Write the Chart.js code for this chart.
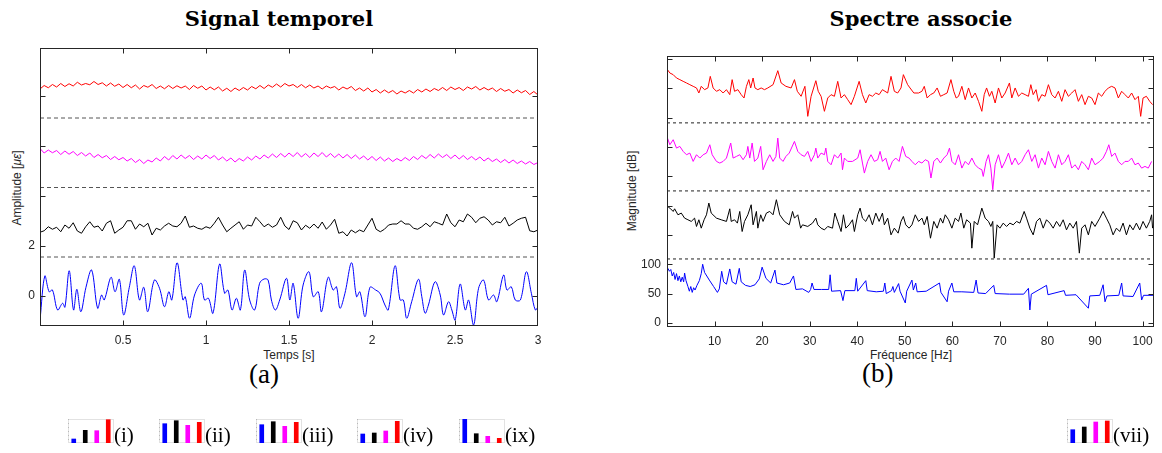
<!DOCTYPE html>
<html>
<head>
<meta charset="utf-8">
<script src="https://cdn.jsdelivr.net/npm/chart.js@4.4.1/dist/chart.umd.min.js"></script>
<style>
  body { margin: 0; background: #fff; width: 1162px; height: 453px; position: relative; overflow: hidden; font-family: 'Liberation Sans', Arial, sans-serif; }
  canvas { position: absolute; }
  .t { position: absolute; white-space: nowrap; color: #000; }
  .title { font: bold 21px 'DejaVu Serif', serif; top: 6px; transform: translateX(-50%); }
  .ax { font-size: 12px; color: #262626; transform: translateX(-50%); }
  .yax { font-size: 12px; color: #262626; transform: translate(-50%, -50%) rotate(-90deg); }
  .tag { font: 27px 'Liberation Serif', serif; }
  .leg { font: 21px 'Liberation Serif', serif; }
</style>
</head>
<body>
<div class="t title" style="left:279px">Signal temporel</div>
<div class="t title" style="left:921px">Spectre associe</div>
<div class="t ax" style="left:289px;top:348px">Temps [s]</div>
<div class="t ax" style="left:911px;top:348px">Fréquence [Hz]</div>
<div class="t yax" style="left:17px;top:188px">Amplitude [<i>με</i>]</div>
<div class="t yax" style="left:632px;top:191px">Magnitude [dB]</div>
<div class="t tag" style="left:249px;top:359px">(a)</div>
<div class="t tag" style="left:862px;top:358px">(b)</div>

<canvas id="temps" width="560" height="360" style="left:0;top:0"></canvas>
<canvas id="spectre" width="562" height="360" style="left:600px;top:0"></canvas>
<div id="legendes"></div>

<script>
// ---- signal temporel ----
const tNoisy = [
  0, 0.025, 0.05, 0.075, 0.1, 0.125, 0.15, 0.175, 0.2, 0.225,
  0.25, 0.275, 0.3, 0.325, 0.35, 0.375, 0.4, 0.425, 0.45, 0.475,
  0.5, 0.525, 0.55, 0.575, 0.6, 0.625, 0.65, 0.675, 0.7, 0.725,
  0.75, 0.775, 0.8, 0.825, 0.85, 0.875, 0.9, 0.925, 0.95, 0.975,
  1, 1.025, 1.05, 1.075, 1.1, 1.125, 1.15, 1.175, 1.2, 1.225,
  1.25, 1.275, 1.3, 1.325, 1.35, 1.375, 1.4, 1.425, 1.45, 1.475,
  1.5, 1.525, 1.55, 1.575, 1.6, 1.625, 1.65, 1.675, 1.7, 1.725,
  1.75, 1.775, 1.8, 1.825, 1.85, 1.875, 1.9, 1.925, 1.95, 1.975,
  2, 2.025, 2.05, 2.075, 2.1, 2.125, 2.15, 2.175, 2.2, 2.225,
  2.25, 2.275, 2.3, 2.325, 2.35, 2.375, 2.4, 2.425, 2.45, 2.475,
  2.5, 2.525, 2.55, 2.575, 2.6, 2.625, 2.65, 2.675, 2.7, 2.725,
  2.75, 2.775, 2.8, 2.825, 2.85, 2.875, 2.9, 2.925, 2.95, 2.975,
  3
];
const redTime = [
  8.28, 8.42, 8.33, 8.46, 8.36, 8.50, 8.38, 8.49, 8.40, 8.55,
  8.44, 8.50, 8.45, 8.58, 8.46, 8.53, 8.40, 8.52, 8.39, 8.48,
  8.34, 8.46, 8.33, 8.44, 8.28, 8.42, 8.35, 8.46, 8.30, 8.40,
  8.29, 8.42, 8.30, 8.41, 8.32, 8.40, 8.26, 8.42, 8.31, 8.40,
  8.24, 8.36, 8.25, 8.36, 8.20, 8.31, 8.18, 8.32, 8.22, 8.34,
  8.24, 8.38, 8.29, 8.42, 8.30, 8.44, 8.35, 8.48, 8.36, 8.50,
  8.40, 8.46, 8.34, 8.46, 8.33, 8.44, 8.32, 8.40, 8.28, 8.40,
  8.32, 8.38, 8.24, 8.36, 8.28, 8.38, 8.22, 8.32, 8.20, 8.32,
  8.16, 8.26, 8.12, 8.24, 8.13, 8.22, 8.08, 8.20, 8.12, 8.22,
  8.12, 8.26, 8.16, 8.28, 8.18, 8.30, 8.22, 8.34, 8.22, 8.36,
  8.26, 8.34, 8.22, 8.36, 8.28, 8.38, 8.24, 8.34, 8.24, 8.32,
  8.18, 8.30, 8.19, 8.26, 8.12, 8.24, 8.13, 8.22, 8.06, 8.18,
  8.04
];
const magentaTime = [
  5.90, 5.72, 5.84, 5.73, 5.82, 5.66, 5.80, 5.67, 5.78, 5.62,
  5.74, 5.60, 5.72, 5.54, 5.66, 5.53, 5.62, 5.46, 5.58, 5.45,
  5.54, 5.40, 5.50, 5.34, 5.46, 5.30, 5.44, 5.36, 5.52, 5.40,
  5.58, 5.44, 5.62, 5.48, 5.64, 5.50, 5.62, 5.46, 5.60, 5.48,
  5.64, 5.50, 5.62, 5.44, 5.56, 5.40, 5.52, 5.36, 5.50, 5.40,
  5.56, 5.44, 5.60, 5.48, 5.64, 5.52, 5.68, 5.54, 5.70, 5.56,
  5.72, 5.58, 5.74, 5.56, 5.70, 5.54, 5.72, 5.58, 5.74, 5.56,
  5.70, 5.54, 5.68, 5.52, 5.66, 5.50, 5.64, 5.48, 5.60, 5.44,
  5.58, 5.42, 5.56, 5.40, 5.52, 5.38, 5.50, 5.40, 5.54, 5.42,
  5.58, 5.46, 5.62, 5.50, 5.66, 5.52, 5.68, 5.54, 5.66, 5.50,
  5.64, 5.48, 5.62, 5.46, 5.58, 5.44, 5.56, 5.40, 5.52, 5.38,
  5.48, 5.34, 5.46, 5.32, 5.44, 5.30, 5.40, 5.28, 5.38, 5.26,
  5.34
];
const blackTime = [
  2.55, 2.61, 2.77, 2.67, 2.75, 2.57, 2.84, 2.71, 2.93, 2.60,
  2.51, 2.77, 2.97, 2.75, 2.80, 2.60, 2.91, 3.01, 2.51, 2.64,
  2.75, 3.01, 3.01, 2.67, 2.88, 2.77, 2.91, 2.44, 2.71, 2.64,
  2.80, 2.91, 2.80, 2.77, 2.91, 3.20, 2.75, 2.80, 2.71, 2.67,
  2.77, 2.71, 2.91, 3.15, 2.84, 2.57, 2.71, 2.84, 2.97, 2.67,
  2.84, 2.80, 3.15, 2.97, 2.77, 2.88, 2.75, 2.84, 3.15, 2.80,
  2.66, 3.01, 2.93, 2.64, 2.83, 2.71, 2.88, 2.71, 2.96, 2.67,
  2.84, 3.07, 2.51, 2.57, 2.40, 2.64, 2.53, 2.64, 2.57, 2.84,
  3.11, 2.67, 2.57, 2.67, 2.84, 2.88, 2.88, 3.01, 2.88, 2.88,
  2.71, 2.67, 2.77, 2.91, 2.77, 2.97, 2.91, 2.84, 3.28, 2.93,
  2.77, 3.04, 2.97, 3.28, 3.15, 2.93, 3.11, 3.17, 3.04, 2.84,
  2.97, 2.93, 3.15, 2.80, 2.91, 3.04, 3.11, 3.15, 2.61, 2.57,
  2.64
];
// blue: [t, amplitude]
const blueTime = [
  [0, -0.96], [0.029, 0.80], [0.055, 0.17], [0.075, 0.24], [0.106, -0.56], [0.136, -0.29], [0.150, -0.45],
  [0.176, 1.01], [0.202, -0.56], [0.222, 0.27], [0.246, -0.63], [0.277, 0.35], [0.311, 1.04], [0.347, -0.49],
  [0.371, 0.04], [0.387, -0.16], [0.428, 0.75], [0.452, 0.17], [0.478, 0.67], [0.504, -0.76], [0.538, 0.35],
  [0.568, 1.21], [0.599, -0.16], [0.625, 0.35], [0.649, -0.63], [0.689, 0.64], [0.720, 0.31], [0.750, -0.43],
  [0.776, 0.17], [0.794, -0.16], [0.826, 1.33], [0.861, -0.16], [0.875, -0.03], [0.901, -0.89], [0.931, 0.04],
  [0.971, 0.51], [0.991, -0.16], [1.015, -0.09], [1.042, -0.69], [1.082, 1.28], [1.112, 0.11], [1.132, 0.24],
  [1.157, -0.56], [1.183, -0.09], [1.207, -0.56], [1.233, 1.04], [1.263, -0.16], [1.293, -0.56], [1.323, 0.51],
  [1.350, 0.68], [1.374, 0.64], [1.394, -0.16], [1.418, -0.56], [1.444, -0.16], [1.485, 0.71], [1.505, -0.16],
  [1.525, 0.51], [1.555, -0.89], [1.585, 0.44], [1.620, 0.97], [1.646, -0.03], [1.676, 0.17], [1.696, -0.63],
  [1.736, 0.75], [1.766, 0.24], [1.786, 0.37], [1.807, -0.49], [1.837, 0.11], [1.877, 1.33], [1.907, -0.03],
  [1.927, 0.17], [1.958, -0.83], [1.988, 0.35], [2.022, 0.24], [2.048, 0.11], [2.078, -0.36], [2.098, -0.56],
  [2.139, 1.21], [2.169, -0.16], [2.189, -0.16], [2.209, -0.89], [2.239, -0.23], [2.280, 0.67], [2.300, -0.03],
  [2.320, -0.69], [2.340, -0.36], [2.380, 0.57], [2.411, 0.04], [2.431, -0.76], [2.461, -0.23], [2.481, -0.56],
  [2.501, -0.96], [2.531, 0.48], [2.562, -0.56], [2.582, -0.16], [2.612, -1.16], [2.642, 0.31], [2.672, 0.64],
  [2.702, -0.16], [2.732, 0.04], [2.752, -0.23], [2.793, 0.84], [2.813, 0.24], [2.839, 0.37], [2.863, -0.16],
  [2.894, -0.16], [2.930, 0.97], [2.960, 0.11], [2.984, -0.56], [3.0, -0.43]
];
const timeSep = [1.56, 4.34, 7.12];

// ---- spectre : [f (Hz), magnitude (dB)] ----
const specRed = [
  [0.1,431.7],[0.6,426],[1.3,423.2],[2.0,417.5],[2.7,414.7],[3.4,411.8],[4.1,409],[4.8,406.1],[5.5,403.3],[6.2,400.5],
  [6.7,391.9],[7.2,403.3],[7.9,397.6],[8.6,400.5],[9.1,420.3],[9.7,400.5],[10.4,394.8],[11.1,397.6],[11.8,391.9],[12.5,397.6],
  [13.2,389.1],[13.7,414.7],[14.2,394.8],[14.9,397.6],[15.6,389.1],[16.2,383.4],[16.7,403.3],[17.2,414.7],[17.6,400.5],[18.1,417.5],
  [18.5,400.5],[19.1,397.6],[19.8,400.5],[20.5,397.6],[21.2,400.5],[22.3,406.1],[23.3,430],[24.0,409],[25.0,403.3],[26.1,400.5],
  [26.8,414.7],[27.4,394.8],[28.2,386.3],[29.0,403.3],[29.6,352.1],[30.3,386.3],[31.3,412.9],[31.8,394.8],[32.4,386.3],[33.1,360.7],
  [33.8,383.4],[34.5,389.1],[35.2,386.3],[35.9,411.8],[36.6,383.4],[37.3,389.1],[38.0,380.6],[38.7,372.1],[39.4,386.3],[40.4,411.8],
  [41.1,389.1],[41.8,374.9],[42.5,389.1],[43.2,386.3],[43.9,391.9],[44.6,389.1],[45.3,397.6],[46.4,391.9],[47.1,420.3],[47.8,394.8],
  [48.5,391.9],[49.2,400.5],[49.7,423.2],[50.6,406.1],[51.1,400.5],
  [51.9,391.9],[52.9,391.9],[53.6,394.8],[54.1,403.3],[54.7,383.4],[55.4,389.1],[56.1,391.9],[56.8,400.5],[57.5,386.3],[58.2,389.1],
  [58.9,391.9],[59.7,414.7],[60.3,394.8],[60.8,383.4],[61.3,386.3],[62.0,403.3],[62.7,380.6],[63.4,400.5],[64.1,383.4],[64.8,391.9],
  [65.5,377.7],[66.2,360.7],[66.7,389.1],[67.2,400.5],[67.8,386.3],[68.3,394.8],[69.0,374.9],[69.7,400.5],[70.4,383.4],[71.1,391.9],
  [72.0,409],[72.5,383.4],[73.2,400.5],[73.9,386.3],[74.6,391.9],[75.3,389.1],[76.0,386.3],[76.5,406.1],[77.0,389.1],[77.6,397.6],
  [78.1,377.7],[78.8,389.1],[79.5,386.3],[80.2,406.1],[80.9,389.1],[81.6,383.4],[82.3,394.8],[83.0,377.7],[83.7,397.6],[84.4,386.3],
  [85.1,391.9],[85.8,397.6],[86.5,377.7],[87.2,389.1],[87.9,372.1],[88.6,386.3],[89.3,383.4],[90.0,372.1],[90.7,391.9],[91.4,386.3],
  [92.1,394.8],[92.8,400.5],[93.5,403.3],[94.2,400.5],[94.9,383.4],[95.6,394.8],[96.3,389.1],[97.0,383.4],[97.7,391.9],[98.4,380.6],
  [99.1,386.3],[99.6,352.1],[100.1,383.4],[100.8,386.3],[101.5,377.7],[102.1,372.1]
];
const specMagenta = [
  [0.1,315.1],[0.6,303.7],[1.3,312.3],[2.0,298],[2.7,300.9],[3.4,292.4],[4.1,286.7],[4.8,289.5],[5.5,275.3],[6.2,286.7],
  [6.9,281],[7.6,286.7],[8.3,289.5],[9.0,303.7],[9.5,286.7],[10.4,275.3],[11.1,272.5],[11.8,275.3],[12.5,281],[13.4,306.6],
  [13.9,281],[14.6,283.8],[15.3,286.7],[16.0,278.2],[16.7,286.7],[17.0,300.9],[17.4,281],[17.9,306.6],[18.4,275.3],[19.1,281],
  [19.7,300.9],[20.2,261.1],[20.9,275.3],[21.6,286.7],[22.3,275.3],[22.9,283.8],[23.3,315.1],[23.7,281],[24.4,275.3],[25.0,283.8],
  [25.7,289.5],[26.8,309.4],[27.5,292.4],[28.2,286.7],[28.9,283.8],[29.6,292.4],[30.3,275.3],[31.0,286.7],[31.3,298],[31.7,281],
  [32.4,289.5],[33.1,286.7],[33.4,298],[33.8,275.3],[34.5,269.6],[35.2,286.7],[35.9,281],[36.6,289.5],[36.9,261.1],[37.3,281],
  [38.0,275.3],[39.0,275.3],[40.1,281],[40.6,295.2],[41.1,272.5],[41.5,255.4],[42.2,275.3],[42.9,286.7],[43.6,275.3],[44.3,278.2],
  [44.8,292.4],[45.3,275.3],[46.0,281],[46.7,261.1],[47.4,275.3],[48.1,281],[48.8,275.3],[49.5,300.9],[50.2,283.8],[50.9,281],
  [51.5,275.3],[52.2,269.6],[52.9,275.3],[53.6,272.5],[54.3,278.2],[55.0,275.3],[55.5,247],[56.1,275.3],[56.8,281],[57.5,272.5],
  [58.2,281],[58.9,286.7],[59.4,298],[59.9,275.3],[60.6,269.6],[61.3,286.7],[62.0,263.9],[62.7,275.3],[63.4,269.6],[64.1,281],
  [64.8,269.6],[65.5,263.9],[66.2,261.1],[66.5,249.7],[67.1,275.3],[67.6,286.7],[68.1,263.9],[68.5,227],[69.0,269.6],[69.7,286.7],
  [70.4,263.9],[71.1,275.3],[71.8,289.5],[72.5,269.6],[73.2,281],[73.9,269.6],[74.6,275.3],[75.3,286.7],[76.0,295.2],[76.7,275.3],
  [77.4,286.7],[78.1,263.9],[78.8,281],[79.5,269.6],[80.2,292.4],[80.9,275.3],[81.6,263.9],[82.3,286.7],[83.0,269.6],[83.7,275.3],
  [84.4,286.7],[85.1,263.9],[85.8,269.6],[86.5,261.1],[87.2,275.3],[87.9,269.6],[88.6,261.1],[89.3,281],[90.0,269.6],[91.0,275.3],
  [91.7,281],[92.4,292.4],[92.9,303.7],[93.5,283.8],[94.2,289.5],[94.9,275.3],[95.6,269.6],[96.3,275.3],[97.0,275.3],[97.7,281],
  [98.4,269.6],[99.1,272.5],[99.8,263.9],[100.5,266.8],[101.2,263.9],[101.9,275.3]
];
const specBlack = [
  [0.1,198.7],[0.6,195.7],[1.3,190],[1.6,194.5],[2.3,184.3],[3.0,187.2],[3.7,178.6],[4.4,175.8],[5.1,173],[5.8,178.6],
  [6.2,164.4],[6.7,175.8],[7.2,161.5],[7.8,175.8],[8.3,184.3],[8.8,204.3],[9.3,187.2],[10.4,178.6],[11.4,175.8],[12.5,173],
  [13.2,194.5],[13.5,173],[14.2,175.8],[14.8,170.1],[15.3,190],[15.8,155.8],[16.3,173],[17.0,184.3],[17.7,201.4],[18.1,167.2],
  [18.8,190],[19.1,161.5],[19.7,184.3],[20.2,173],[20.9,187.2],[21.6,190],[22.3,184.3],[23.0,210],[23.7,184.3],[24.7,173],
  [25.7,167.2],[26.4,190],[26.8,178.6],[27.5,184.3],[28.1,161.5],[28.5,167.2],[29.6,164.4],[30.6,170.1],[31.3,178.6],[31.7,167.2],
  [32.4,161.5],[33.1,158.6],[33.8,164.4],[34.8,161.5],[35.3,187.2],[35.9,173],[36.6,155.8],[37.1,184.3],[37.6,161.5],[38.3,167.2],
  [39.0,175.8],[39.4,155.8],[40.1,184.3],[40.6,195.7],[41.1,178.6],[41.8,173],[42.5,184.3],[43.2,167.2],[43.9,187.2],[44.6,173],
  [45.3,187.2],[45.7,167.2],[46.4,178.6],[47.1,150.1],[47.8,161.5],[48.6,153],[49.2,173],[49.7,181.5],[50.2,167.2],[50.9,161.5],
  [51.5,167.2],[52.2,184.3],[52.9,173],[53.6,178.6],[54.1,167.2],[54.7,181.5],[55.4,144.4],[56.1,173],[56.8,161.5],[57.5,178.6],
  [58.0,170.1],[58.5,184.3],[59.2,175.8],[59.9,161.5],[60.6,178.6],[61.3,173],[61.8,187.2],[62.4,161.5],[63.0,175.8],[63.8,170.1],
  [64.1,127.4],[64.6,173],[65.3,167.2],[66.2,195.7],[66.9,178.6],[67.6,173],[68.1,164.4],[68.5,173],[68.8,110.4],[69.4,167.2],
  [70.0,161.5],[70.7,170.1],[71.4,164.4],[72.1,170.1],[72.8,167.2],[73.5,173],[74.2,170.1],[75.1,190],[75.6,178.6],[76.3,161.5],
  [77.0,150.1],[77.7,173],[78.4,178.6],[79.1,161.5],[79.8,175.8],[80.5,170.1],[81.2,161.5],[81.9,173],[82.6,164.4],[83.3,175.8],
  [84.0,158.6],[84.7,170.1],[85.4,161.5],[86.1,173],[86.7,118.9],[87.2,161.5],[87.9,167.2],[88.6,150.1],[89.3,173],[90.0,164.4],
  [91.0,178.6],[91.7,190],[92.4,178.6],[93.1,167.2],[93.8,150.1],[94.5,161.5],[95.2,155.8],[95.9,170.1],[96.6,150.1],[97.3,167.2],
  [98.0,158.6],[98.7,170.1],[99.4,158.6],[100.1,173],[100.8,161.5],[101.5,173],[101.9,184.3],[102.1,161.5]
];
const specBlue = [
  [0.2,93],[0.5,88],[0.8,91],[1.1,80],[1.4,86],[1.7,74],[2.0,84],[2.3,72],[2.6,80],[2.9,70],
  [3.2,78],[3.5,70],[3.7,85],[4.0,72],[4.4,62],[4.7,54],[5.0,62],[5.3,52],[5.6,60],[5.9,56],
  [6.3,64],[6.8,72],[7.2,84],[7.5,100],[7.9,86],[8.9,73],[9.8,62],[10.6,52],[11.0,58],[11.5,88],
  [11.9,70],[12.5,66],[13.2,92],[13.7,70],[14.5,66],[15.2,93],[15.6,70],[16.5,64],[17.5,62],[18.5,65],
  [19.4,75],[20.0,95],[20.8,76],[21.8,68],[22.7,90],[23.1,68],[24.5,65],[25.8,68],[26.6,80],[27.1,57],
  [28.5,58],[29.8,52],[30.2,57],[30.5,68],[30.9,57],[32.5,57],[34.0,57],[34.3,82],[34.6,54],[36.5,55],
  [37.0,38],[37.4,55],[39.5,55],[39.8,76],[40.1,54],[41.8,72],[42.1,55],[44.0,53],[45.5,54],[45.8,68],
  [46.1,50],[47.2,55],[47.5,62],[47.8,52],[48.7,67],[49.0,54],[50.1,34],[50.4,54],[51.5,73],[51.8,56],
  [52.3,68],[52.6,53],[54.5,54],[57.3,68],[57.6,52],[58.9,36],[59.2,54],[59.9,68],[60.3,53],[62.0,53],
  [64.5,52],[65.0,73],[65.4,51],[67.0,50],[68.7,64],[69.0,50],[72.0,49],[75.0,49],[76.0,59],[76.3,22],
  [76.6,49],[79.8,64],[80.1,48],[83.5,55],[83.8,47],[86.0,48],[88.6,25],[88.9,46],[91.0,47],[91.7,65],
  [92.1,36],[92.5,46],[95.0,47],[95.6,68],[95.9,46],[98.0,45],[99.4,68],[99.8,39],[100.2,47],[102.3,47]
];
const specSep = [109, 225, 341];

// ---- petites legendes en barres ----
const legendLabels = ['(i)', '(ii)', '(iii)', '(iv)', '(ix)', '(vii)'];
const legBlue    = [4, 19.3, 18.3, 9, 24, 13.3];
const legBlack   = [12.7, 22.3, 21.3, 10, 9.3, 16];
const legMagenta = [12.3, 17.7, 16.7, 12, 6.7, 21];
const legRed     = [23.3, 20.7, 20.7, 21.7, 4.7, 22];

// positions des legendes (px)
const legendLeft = [68, 159, 256, 357, 459, 1067];

const AXC = '#262626';
const tickFont = { family: "'Liberation Sans', Arial, sans-serif", size: 12 };

// cadre + graduations vers l'interieur (style matlab)
const boxTicks = {
  id: 'boxTicks',
  afterDatasetsDraw(chart) {
    const { ctx, chartArea: a, scales } = chart;
    const L = Math.round(a.left) + 0.5, R = Math.round(a.right) - 0.5;
    const T = Math.round(a.top) + 0.5, B = Math.round(a.bottom) - 0.5;
    ctx.save();
    ctx.strokeStyle = AXC;
    ctx.lineWidth = 1;
    ctx.beginPath();
    scales.x.ticks.forEach(t => {
      const px = Math.round(scales.x.getPixelForValue(t.value)) + 0.5;
      if (px <= L + 1 || px >= R - 1) return;
      ctx.moveTo(px, B); ctx.lineTo(px, B - 5);
      ctx.moveTo(px, T); ctx.lineTo(px, T + 5);
    });
    scales.y.ticks.forEach(t => {
      const py = Math.round(scales.y.getPixelForValue(t.value)) + 0.5;
      if (py <= T + 1 || py >= B - 1) return;
      ctx.moveTo(L, py); ctx.lineTo(L + 5, py);
      ctx.moveTo(R, py); ctx.lineTo(R - 5, py);
    });
    ctx.stroke();
    ctx.strokeRect(L, T, R - L, B - T);
    ctx.restore();
  }
};

function pts(xs, ys) { return xs.map((x, i) => ({ x: x, y: ys[i] })); }
function pairs(arr) { return arr.map(p => ({ x: p[0], y: p[1] })); }
function trace(data, color, extra) {
  return Object.assign({ data: data, borderColor: color, borderWidth: 1, pointRadius: 0, fill: false, tension: 0 }, extra || {});
}
function sepLines(levels, xmin, xmax, color, dash) {
  return levels.map(v => trace([{ x: xmin, y: v }, { x: xmax, y: v }], color, { borderDash: dash }));
}

function mainChart(id, datasets, o) {
  return new Chart(document.getElementById(id), {
    type: 'line',
    data: { datasets: datasets },
    options: {
      responsive: false,
      animation: false,
      layout: { padding: { top: o.padTop, right: o.padRight, left: 0, bottom: 0 } },
      plugins: { legend: { display: false }, tooltip: { enabled: false } },
      scales: {
        x: {
          type: 'linear', min: o.xmin, max: o.xmax,
          grid: { display: false, drawTicks: false }, border: { display: false },
          ticks: { stepSize: o.xstep, includeBounds: false, autoSkip: false, maxRotation: 0, padding: 7,
                   font: tickFont, color: AXC, callback: o.xlabel },
          afterFit: s => { s.height = o.xh; }
        },
        y: {
          type: 'linear', min: o.ymin, max: o.ymax,
          grid: { display: false, drawTicks: false }, border: { display: false },
          ticks: { stepSize: o.ystep, includeBounds: false, autoSkip: false, padding: o.ypad,
                   font: tickFont, color: AXC, callback: o.ylabel },
          afterFit: s => { s.width = o.yw; }
        }
      }
    },
    plugins: [boxTicks]
  });
}

mainChart('temps', [
  ...sepLines(timeSep, 0, 3, '#555', [4, 3]),
  trace(pts(tNoisy, redTime), '#ff0000'),
  trace(pts(tNoisy, magentaTime), '#ff00ff'),
  trace(pts(tNoisy, blackTime), '#000000'),
  trace(pairs(blueTime), '#0000ff', { tension: 0.35 })
], {
  padTop: 48, padRight: 22, xh: 34, yw: 40, ypad: 5,
  xmin: 0, xmax: 3, xstep: 0.5, ymin: -1.2, ymax: 9.92, ystep: 2,
  xlabel: v => (v === 0 ? '' : String(v)),
  ylabel: v => (v === 0 || v === 2 ? String(v) : '')
});

mainChart('spectre', [
  ...sepLines(specSep, 0, 102.4, '#222', [3, 3]),
  trace(pairs(specRed), '#ff0000'),
  trace(pairs(specMagenta), '#ff00ff'),
  trace(pairs(specBlack), '#000000'),
  trace(pairs(specBlue), '#0000ff')
], {
  padTop: 56, padRight: 8, xh: 33, yw: 67, ypad: 6,
  xmin: 0, xmax: 102.4, xstep: 10, ymin: -7, ymax: 455, ystep: 50,
  xlabel: v => (v === 0 ? '' : String(v)),
  ylabel: v => (v === 0 || v === 50 || v === 100 ? String(v) : '')
});

// cadre clair des petites legendes
const legBox = {
  id: 'legBox',
  beforeDatasetsDraw(chart) {
    const { ctx, chartArea: a } = chart;
    ctx.save();
    ctx.strokeStyle = '#e2e2e2';
    ctx.lineWidth = 1;
    ctx.strokeRect(a.left + 0.5, a.top + 0.5, a.width - 1, a.height - 1);
    ctx.strokeStyle = '#b8b8b8';
    ctx.setLineDash([1, 3]);
    ctx.beginPath();
    ctx.moveTo(a.left + 0.5, a.top); ctx.lineTo(a.left + 0.5, a.bottom);
    ctx.stroke();
    ctx.restore();
  }
};

const host = document.getElementById('legendes');
legendLabels.forEach((lab, i) => {
  const cv = document.createElement('canvas');
  cv.width = 50; cv.height = 28;
  cv.style.left = (legendLeft[i] - 2) + 'px';
  cv.style.top = '417px';
  host.appendChild(cv);
  const txt = document.createElement('div');
  txt.className = 't leg';
  txt.style.left = (legendLeft[i] + 46) + 'px';
  txt.style.top = '423px';
  txt.textContent = lab;
  host.appendChild(txt);
  new Chart(cv, {
    type: 'bar',
    data: {
      labels: ['b', 'n', 'm', 'r'],
      datasets: [{
        data: [legBlue[i], legBlack[i], legMagenta[i], legRed[i]],
        backgroundColor: ['#0000ff', '#000000', '#ff00ff', '#ff0000'],
        barThickness: 4
      }]
    },
    options: {
      responsive: false, animation: false,
      layout: { padding: 2 },
      plugins: { legend: { display: false }, tooltip: { enabled: false } },
      scales: { x: { display: false }, y: { display: false, min: 0, max: 24 } }
    },
    plugins: [legBox]
  });
});
</script>
</body>
</html>
